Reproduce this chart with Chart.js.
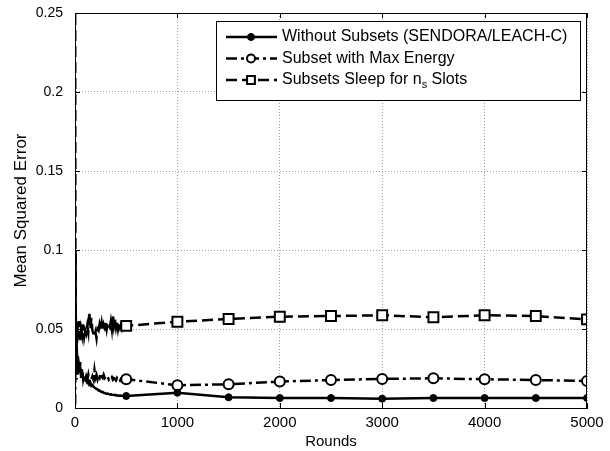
<!DOCTYPE html>
<html>
<head>
<meta charset="utf-8">
<script src="https://cdn.jsdelivr.net/npm/chart.js@4.4.1/dist/chart.umd.min.js"></script>
<style>
  html, body { margin: 0; padding: 0; background: #fff; }
  #wrap { width: 610px; height: 451px; }
</style>
</head>
<body>
<div id="wrap"><canvas id="mseChart" width="610" height="451"></canvas></div>
<script>
// rounds at which the MSE was sampled (dense early, then every 500)
const rounds = [1, 4, 8, 12, 16, 20, 25, 30,
  40, 50, 60, 70, 80, 90, 100, 110, 120, 130, 140, 150, 160, 170, 180, 190, 200,
  210, 220, 230, 240, 250, 260, 270, 280, 290, 300, 310, 320, 330, 340, 350,
  360, 370, 380, 390, 400, 410, 420, 430, 440, 450, 460, 470, 480, 490, 500,
  1000, 1500, 2000, 2500, 3000, 3500, 4000, 4500, 5000];

const mseWithout = [0.100, 0.085, 0.062, 0.048, 0.040, 0.033, 0.030, 0.027,
  0.024, 0.026, 0.022, 0.020, 0.019, 0.018, 0.019, 0.017, 0.016, 0.017, 0.015, 0.016, 0.014, 0.0145, 0.0135, 0.013, 0.0125,
  0.012, 0.0118, 0.011, 0.0112, 0.0105, 0.010, 0.0102, 0.0096, 0.0095, 0.0092, 0.009, 0.0091, 0.0088, 0.0086, 0.0087,
  0.0084, 0.0083, 0.0082, 0.0083, 0.008, 0.0081, 0.0079, 0.0078, 0.0079, 0.0077, 0.0078, 0.0076, 0.0077, 0.0076, 0.0076,
  0.0097, 0.0068, 0.0063, 0.0063, 0.0059, 0.0063, 0.0063, 0.0063, 0.0063];

const mseMaxEnergy = [0.002, 0.035, 0.022, 0.030, 0.018, 0.026, 0.021, 0.033,
  0.024, 0.030, 0.019, 0.025, 0.018, 0.021, 0.017, 0.020, 0.018, 0.021, 0.017, 0.019, 0.018, 0.020, 0.018, 0.024, 0.019,
  0.021, 0.018, 0.020, 0.019, 0.022, 0.020, 0.019, 0.021, 0.019, 0.020, 0.019, 0.0195, 0.018, 0.019, 0.0185,
  0.0195, 0.018, 0.019, 0.0185, 0.0175, 0.019, 0.018, 0.0185, 0.0175, 0.0185, 0.018, 0.0178, 0.0185, 0.018, 0.0182,
  0.0144, 0.0150, 0.0167, 0.0177, 0.0184, 0.0188, 0.0182, 0.0177, 0.0171];

const mseSleep = [0.30, 0.095, 0.055, 0.042, 0.056, 0.041, 0.052, 0.044,
  0.055, 0.043, 0.050, 0.046, 0.053, 0.045, 0.049, 0.047, 0.052, 0.048, 0.061, 0.050, 0.057, 0.049, 0.047, 0.045, 0.048,
  0.044, 0.050, 0.049, 0.053, 0.050, 0.054, 0.049, 0.053, 0.051, 0.055, 0.050, 0.054, 0.052, 0.051, 0.055,
  0.050, 0.059, 0.052, 0.056, 0.051, 0.055, 0.050, 0.054, 0.051, 0.053, 0.050, 0.052, 0.051, 0.053, 0.052,
  0.0546, 0.0563, 0.0578, 0.0582, 0.0587, 0.0574, 0.0587, 0.0582, 0.0561];

const xTicks = [0, 1000, 2000, 3000, 4000, 5000];
const yTicks = [0, 0.05, 0.1, 0.15, 0.2, 0.25];
const markerEvery = 500;

const seriesLabels = [
  'Without Subsets (SENDORA/LEACH-C)',
  'Subset with Max Energy',
  'Subsets Sleep for n|s| Slots'
];

function toPoints(values) {
  return rounds.map((r, i) => ({ x: r, y: values[i] }));
}

function markerSize(size) {
  return ctx => (ctx.raw && ctx.raw.x % markerEvery === 0 ? size : 0);
}

const FONT = '"Liberation Sans", Arial, sans-serif';

// box around the axes with inward tick marks, like a MATLAB figure
const axesFrame = {
  id: 'axesFrame',
  afterDatasetsDraw(chart) {
    const { ctx, chartArea: a, scales } = chart;
    ctx.save();
    ctx.strokeStyle = '#000';
    ctx.lineWidth = 1;
    ctx.setLineDash([]);
    ctx.strokeRect(a.left + 0.5, a.top + 0.5, a.right - a.left - 1, a.bottom - a.top);
    ctx.beginPath();
    xTicks.forEach(v => {
      const px = Math.round(scales.x.getPixelForValue(v)) + 0.5;
      ctx.moveTo(px, a.bottom); ctx.lineTo(px, a.bottom - 5);
      ctx.moveTo(px, a.top); ctx.lineTo(px, a.top + 5);
    });
    yTicks.forEach(v => {
      const py = Math.round(scales.y.getPixelForValue(v)) + 0.5;
      ctx.moveTo(a.left, py); ctx.lineTo(a.left + 5, py);
      ctx.moveTo(a.right, py); ctx.lineTo(a.right - 5, py);
    });
    ctx.stroke();
    ctx.restore();
  }
};

// legend box in the upper right of the axes
const boxLegend = {
  id: 'boxLegend',
  afterDraw(chart) {
    const { ctx } = chart;
    const left = 216, top = 21, right = 580, bottom = 100;
    const rowY = [37, 58.5, 80];
    ctx.save();
    ctx.fillStyle = '#fff';
    ctx.fillRect(left, top, right - left, bottom - top);
    ctx.strokeStyle = '#000';
    ctx.lineWidth = 1;
    ctx.setLineDash([]);
    ctx.strokeRect(left + 0.5, top + 0.5, right - left, bottom - top);

    chart.data.datasets.forEach((ds, i) => {
      const y = rowY[i];
      ctx.strokeStyle = '#000';
      ctx.lineWidth = ds.borderWidth;
      ctx.setLineDash(ds.borderDash || []);
      ctx.beginPath();
      ctx.moveTo(226, y);
      ctx.lineTo(277, y);
      ctx.stroke();
      ctx.setLineDash([]);
      ctx.fillStyle = ds.pointBackgroundColor;
      ctx.strokeStyle = '#000';
      ctx.lineWidth = ds.pointBorderWidth;
      Chart.helpers.drawPoint(ctx, {
        pointStyle: ds.pointStyle, radius: ds.legendRadius, rotation: 0, borderWidth: ds.pointBorderWidth
      }, 251, y);

      // label, with |x| marking a subscript
      ctx.fillStyle = '#000';
      ctx.textBaseline = 'middle';
      ctx.textAlign = 'left';
      let x = 282;
      seriesLabels[i].split('|').forEach((part, k) => {
        ctx.font = (k % 2 ? '11px ' : '16px ') + FONT;
        ctx.fillText(part, x, y + (k % 2 ? 5 : 0));
        x += ctx.measureText(part).width;
      });
    });
    ctx.restore();
  }
};

new Chart(document.getElementById('mseChart'), {
  type: 'line',
  data: {
    datasets: [
      {
        label: seriesLabels[0],
        data: toPoints(mseWithout),
        borderColor: '#000',
        borderWidth: 2.5,
        pointStyle: 'circle',
        pointRadius: markerSize(3.5),
        legendRadius: 3.5,
        pointBackgroundColor: '#000',
        pointBorderColor: '#000',
        pointBorderWidth: 1
      },
      {
        label: seriesLabels[1],
        data: toPoints(mseMaxEnergy),
        borderColor: '#000',
        borderWidth: 2.5,
        borderDash: [11, 4, 3, 4],
        pointStyle: 'circle',
        pointRadius: markerSize(5),
        legendRadius: 4,
        pointBackgroundColor: '#fff',
        pointBorderColor: '#000',
        pointBorderWidth: 2
      },
      {
        label: seriesLabels[2],
        data: toPoints(mseSleep),
        borderColor: '#000',
        borderWidth: 2.5,
        borderDash: [11, 5],
        pointStyle: 'rect',
        pointRadius: markerSize(7),
        legendRadius: 5.5,
        pointBackgroundColor: '#fff',
        pointBorderColor: '#000',
        pointBorderWidth: 2
      }
    ]
  },
  options: {
    responsive: false,
    animation: false,
    events: [],
    layout: { padding: { top: 13, right: 23, left: 0, bottom: 0 } },
    elements: { line: { tension: 0 }, point: { hoverRadius: 0 } },
    plugins: { legend: { display: false }, tooltip: { enabled: false } },
    scales: {
      x: {
        type: 'linear',
        min: 0,
        max: 5000,
        afterBuildTicks: scale => { scale.ticks = xTicks.map(v => ({ value: v })); },
        afterFit: scale => { scale.height = 43; scale.paddingLeft = 0; scale.paddingRight = 0; },
        ticks: { color: '#000', font: { family: FONT, size: 15 }, padding: 6, maxRotation: 0, callback: v => String(v) },
        grid: { color: '#a0a0a0', lineWidth: 1, drawTicks: false },
        border: { display: true, color: '#000', dash: [1, 2] },
        title: { display: true, text: 'Rounds', color: '#000', font: { family: FONT, size: 15 }, padding: { top: 0, bottom: 0 } }
      },
      y: {
        type: 'linear',
        min: 0,
        max: 0.25,
        afterBuildTicks: scale => { scale.ticks = yTicks.map(v => ({ value: v })); },
        afterFit: scale => { scale.width = 75; scale.paddingTop = 0; scale.paddingBottom = 0; },
        ticks: { color: '#000', font: { family: FONT, size: 14 }, padding: 12, callback: v => String(v) },
        grid: { color: '#a0a0a0', lineWidth: 1, drawTicks: false },
        border: { display: true, color: '#000', dash: [1, 2] },
        title: { display: true, text: 'Mean Squared Error', color: '#000', font: { family: FONT, size: 17 }, padding: { top: 11, bottom: 0 } }
      }
    }
  },
  plugins: [axesFrame, boxLegend]
});
</script>
</body>
</html>
